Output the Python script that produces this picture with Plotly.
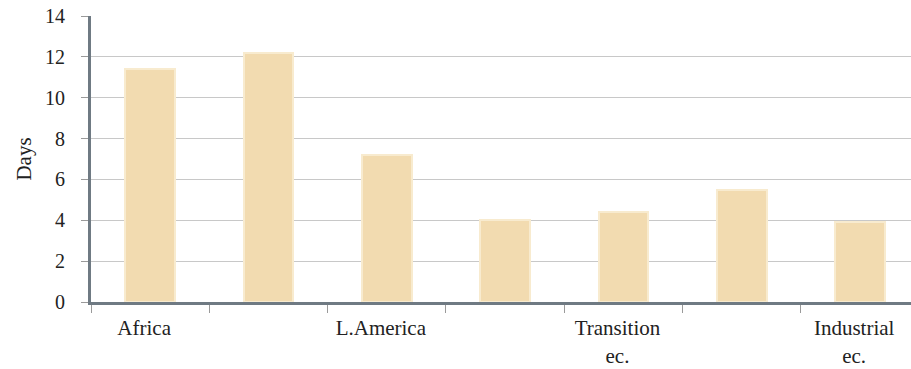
import plotly.graph_objects as go

categories = ["Africa", "East Asia", "L.America", "Middle East", "Transition<br>ec.", "South Asia", "Industrial<br>ec."]
days = [11.4, 12.2, 7.2, 4.0, 4.4, 5.5, 3.9]
y_ticks = [0, 2, 4, 6, 8, 10, 12, 14]

x_idx = list(range(len(categories)))
label_idx = x_idx[::2]
label_text = [categories[i] for i in label_idx]
boundaries = [i - 0.5 for i in x_idx]

FONT = "Liberation Serif, Times New Roman, serif"

fig = go.Figure()
fig.add_trace(go.Bar(
    x=x_idx, y=days, width=0.42,
    marker=dict(color="#f2dbb0", line=dict(color="#f8ebcf", width=2)),
    hoverinfo="skip",
))

fig.update_layout(
    width=911, height=369,
    margin=dict(l=91, r=0, t=16, b=67),
    paper_bgcolor="white", plot_bgcolor="white",
    showlegend=False,
    font=dict(family=FONT, size=20, color="#222222"),
    bargap=0,
)
fig.update_xaxes(
    range=[-0.5, 6.43], automargin=False,
    tickmode="array", tickvals=label_idx, ticktext=label_text,
    ticks="", ticklabelshift=-6, ticklabelstandoff=5,
    showline=True, linecolor="#6f7a83", linewidth=3,
    showgrid=False, zeroline=False,
    minor=dict(tickmode="array", tickvals=boundaries, ticks="outside", ticklen=8,
               tickcolor="#9a9a9a", tickwidth=1, showgrid=False),
    tickfont=dict(family=FONT, size=21, color="#222222"),
)
fig.update_yaxes(
    range=[0, 14], tickvals=y_ticks, automargin=False,
    ticks="outside", ticklen=7, tickcolor="#9a9a9a", tickwidth=1,
    ticklabelstandoff=12,
    showline=True, linecolor="#6f7a83", linewidth=3,
    showgrid=True, gridcolor="#c8c8c8", gridwidth=1,
    zeroline=False,
    title=dict(text="Days", font=dict(family=FONT, size=21, color="#222222"), standoff=8),
    tickfont=dict(family=FONT, size=20, color="#222222"),
)

fig.write_html("out.html")
